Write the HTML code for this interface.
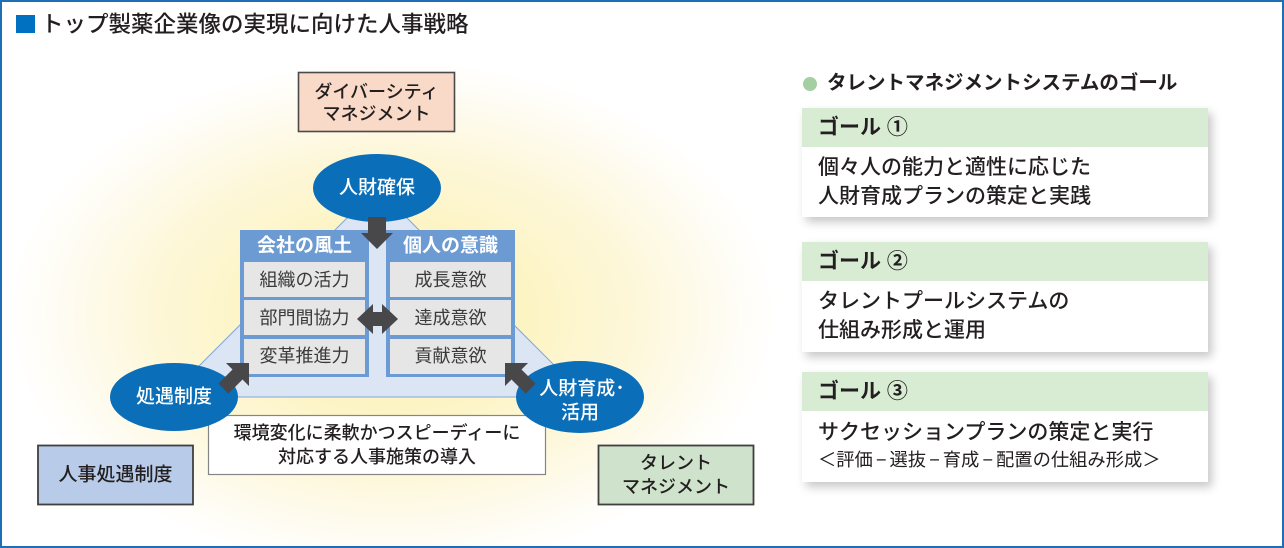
<!DOCTYPE html>
<html><head><meta charset="utf-8">
<style>
html,body{margin:0;padding:0;background:#fff;}
#wrap{position:relative;width:1284px;height:548px;overflow:hidden;background:#fff;font-family:"Liberation Sans","Noto Sans CJK JP",sans-serif;color:#231f20;}
#frame{position:absolute;left:0;top:0;width:1280px;height:544px;border:2px solid #1f6fb8;}
#glow{position:absolute;left:0;top:0;width:1284px;height:548px;background:radial-gradient(ellipse 385px 255px at 392px 315px,#fdf3bc 0%,#fdf4c4 35%,#fdf7d8 62%,#fefbee 82%,rgba(255,255,255,0) 100%);}
.abs{position:absolute;white-space:nowrap;}
.goal{position:absolute;left:802px;width:406px;height:109px;background:#fff;box-shadow:4px 5px 9px rgba(0,0,0,0.22);}
.gh{position:absolute;left:0;top:0;width:406px;height:39px;background:#d8ebd3;}
.ght{position:absolute;left:16px;top:0;line-height:39px;font-size:21px;font-weight:bold;}
.gl{position:absolute;left:16px;font-size:21px;font-weight:500;white-space:nowrap;line-height:28px;}
.d{margin:0 3px;}
</style></head>
<body>
<div id="wrap">
<div id="glow"></div>

<!-- title -->
<div class="abs" style="left:16px;top:15px;width:19px;height:18px;background:#0070c0;"></div>
<div class="abs" style="left:41px;top:10px;font-size:22.5px;line-height:30px;font-weight:500;">トップ製薬企業像の実現に向けた人事戦略</div>

<svg width="1284" height="548" style="position:absolute;left:0;top:0;" font-family="Liberation Sans, Noto Sans CJK JP, sans-serif">
  <!-- diversity box -->
  <rect x="298.5" y="72.5" width="156" height="59" fill="#f9dac9" stroke="#4a4a4a" stroke-width="1.6"/>
  <text x="376.5" y="92" font-size="18" font-weight="500" text-anchor="middle" dominant-baseline="central" fill="#231f20">ダイバーシティ</text>
  <text x="376.5" y="114" font-size="18" font-weight="500" text-anchor="middle" dominant-baseline="central" fill="#231f20">マネジメント</text>

  <!-- triangle -->
  <polygon points="377,188 168,397 586,397" fill="#dce5f3" stroke="#7ea6d8" stroke-width="1"/>

  <!-- panel columns -->
  <rect x="240" y="230" width="129" height="147" fill="#6b9bd2"/>
  <rect x="386" y="230" width="129" height="147" fill="#6b9bd2"/>
  <rect x="244" y="262" width="121" height="35" fill="#e6e6e6"/>
  <rect x="244" y="300" width="121" height="35" fill="#e6e6e6"/>
  <rect x="244" y="339" width="121" height="35" fill="#e6e6e6"/>
  <rect x="390" y="262" width="121" height="35" fill="#e6e6e6"/>
  <rect x="390" y="300" width="121" height="35" fill="#e6e6e6"/>
  <rect x="390" y="339" width="121" height="35" fill="#e6e6e6"/>
  <text x="304.5" y="246" font-size="19" font-weight="bold" fill="#fff" text-anchor="middle" dominant-baseline="central">会社の風土</text>
  <text x="450.5" y="246" font-size="19" font-weight="bold" fill="#fff" text-anchor="middle" dominant-baseline="central">個人の意識</text>
  <g font-size="18" fill="#3a3a3a" text-anchor="middle" dominant-baseline="central">
    <text x="304.5" y="280">組織の活力</text>
    <text x="304.5" y="318">部門間協力</text>
    <text x="304.5" y="356">変革推進力</text>
    <text x="450.5" y="280">成長意欲</text>
    <text x="450.5" y="318">達成意欲</text>
    <text x="450.5" y="356">貢献意欲</text>
  </g>

  <!-- white text box -->
  <rect x="208.5" y="415.5" width="337" height="59" fill="#fff" stroke="#858585" stroke-width="1.2"/>
  <text x="377" y="433" font-size="18" font-weight="500" text-anchor="middle" dominant-baseline="central" fill="#231f20">環境変化に柔軟かつスピーディーに</text>
  <text x="377" y="457" font-size="18" font-weight="500" text-anchor="middle" dominant-baseline="central" fill="#231f20">対応する人事施策の導入</text>

  <!-- ellipses -->
  <ellipse cx="377" cy="188" rx="64" ry="34" fill="#0a6eb8"/>
  <ellipse cx="174" cy="397" rx="64" ry="34" fill="#0a6eb8"/>
  <ellipse cx="580" cy="397" rx="64" ry="36" fill="#0a6eb8"/>
  <g font-size="19" font-weight="500" fill="#fff" text-anchor="middle" dominant-baseline="central">
    <text x="377" y="188">人財確保</text>
    <text x="174" y="397">処遇制度</text>
    <text x="582" y="389">人財育成･</text>
    <text x="580" y="413">活用</text>
  </g>

  <!-- arrows -->
  <g fill="#48484b">
    <polygon points="368,217 386,217 386,233 393,233 377,249 361,233 368,233"/>
    <polygon points="357,319 373,304 373,312 382,312 382,304 398,319 382,334 382,326 373,326 373,334"/>
    <polygon points="249,363 249,386 242.5,379.5 228.4,393.6 218.4,383.6 232.5,369.5 226,363"/>
    <polygon points="505,363 528,363 521.5,369.5 535.6,383.6 525.6,393.6 511.5,379.5 505,386"/>
  </g>

  <!-- bottom boxes -->
  <rect x="38" y="445.5" width="155" height="59" fill="#b8cbe8" stroke="#404040" stroke-width="1.8"/>
  <text x="115.5" y="475" font-size="19" font-weight="500" text-anchor="middle" dominant-baseline="central" fill="#231f20">人事処遇制度</text>
  <rect x="598.5" y="445.5" width="155" height="59" fill="#cfe2cc" stroke="#404040" stroke-width="1.8"/>
  <text x="676" y="463" font-size="18" font-weight="500" text-anchor="middle" dominant-baseline="central" fill="#231f20">タレント</text>
  <text x="676" y="487" font-size="18" font-weight="500" text-anchor="middle" dominant-baseline="central" fill="#231f20">マネジメント</text>
</svg>

<!-- right side -->
<div class="abs" style="left:803px;top:77px;width:14px;height:14px;border-radius:50%;background:#a3cfa3;"></div>
<div class="abs" style="left:827px;top:69px;font-size:19.5px;line-height:28px;font-weight:bold;">タレントマネジメントシステムのゴール</div>

<div class="goal" style="top:108px;">
  <div class="gh"><div class="ght">ゴール ①</div></div>
  <div class="gl" style="top:46px;">個々人の能力と適性に応じた</div>
  <div class="gl" style="top:75px;">人財育成プランの策定と実践</div>
</div>
<div class="goal" style="top:242px;height:110px;">
  <div class="gh"><div class="ght">ゴール ②</div></div>
  <div class="gl" style="top:46px;">タレントプールシステムの</div>
  <div class="gl" style="top:75px;">仕組み形成と運用</div>
</div>
<div class="goal" style="top:372px;height:110px;">
  <div class="gh"><div class="ght">ゴール ③</div></div>
  <div class="gl" style="top:47px;">サクセッションプランの策定と実行</div>
  <div class="gl" style="top:74px;font-size:18.3px;font-weight:normal;">＜評価<span class="d">−</span>選抜<span class="d">−</span>育成<span class="d">−</span>配置の仕組み形成＞</div>
</div>

<div id="frame"></div>
</div>
</body></html>
